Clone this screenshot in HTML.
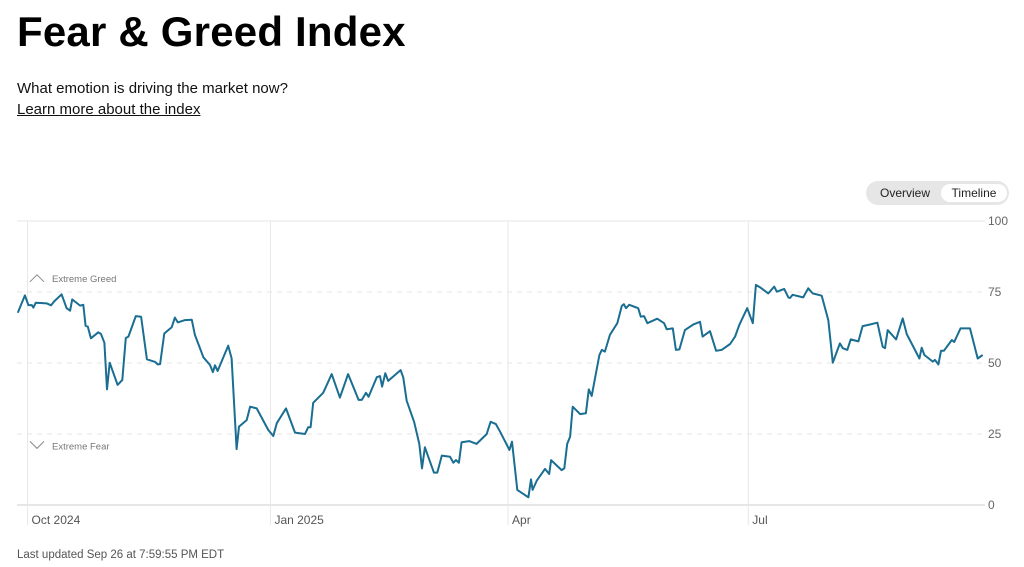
<!DOCTYPE html>
<html><head><meta charset="utf-8">
<style>
body{margin:0;width:1024px;height:567px;background:#fff;font-family:"Liberation Sans",sans-serif;overflow:hidden;position:relative}
h1{position:absolute;left:17px;top:8px;margin:0;font-size:42px;font-weight:700;color:#000;letter-spacing:0.2px}
.sub{position:absolute;left:17px;top:80px;font-size:15px;color:#111}
.lnk{position:absolute;left:17px;top:101px;font-size:15px;color:#111;text-decoration:underline}
.toggle{position:absolute;left:866px;top:181px;width:143px;height:24px;border-radius:12px;background:#e6e6e6}
.toggle span{position:absolute;top:3px;height:18px;line-height:18px;font-size:12px;color:#222;text-align:center}
.upd{position:absolute;left:17px;top:549px;font-size:11.5px;color:#555}
</style></head><body>
<h1>Fear &amp; Greed Index</h1>
<div class="sub">What emotion is driving the market now?</div>
<div class="lnk">Learn more about the index</div>
<div class="toggle">
 <span style="left:4px;width:70px">Overview</span>
 <span style="left:75px;width:66px;background:#fff;border-radius:10px">Timeline</span>
</div>
<svg id="chart" width="1024" height="567" style="position:absolute;left:0;top:0"></svg>
<div class="upd">Last updated Sep 26 at 7:59:55 PM EDT</div>
<script>
const days=[0.3,3.0,4.3,5.6,6.2,7.1,11.3,12.9,14.1,16.9,18.8,20.1,20.9,23.9,25.1,26.0,26.8,28.0,30.8,31.8,33.1,34.1,35.1,38.1,39.9,41.2,42.2,45.0,47.0,49.2,52.3,53.3,54.2,55.8,58.6,59.8,60.9,63.6,66.2,67.4,70.6,73.1,74.2,75.0,76.0,80.0,81.3,83.2,84.1,87.0,88.3,90.8,95.2,97.1,98.4,101.9,105.3,109.1,110.3,111.2,112.2,116.0,119.2,122.3,125.4,129.4,130.6,132.2,133.2,136.3,137.5,138.3,139.5,140.6,145.3,146.3,147.6,150.4,152.4,153.4,154.5,157.9,159.2,160.9,164.0,165.3,166.3,167.4,168.4,171.3,174.1,177.9,179.4,181.4,183.0,186.5,187.5,189.5,193.7,194.7,195.3,196.9,200.0,201.6,202.3,206.3,207.3,208.4,209.5,210.5,213.3,215.5,216.6,217.7,220.6,221.5,222.7,224.6,227.4,229.1,229.9,230.7,231.9,235.3,236.3,237.5,238.8,242.5,245.1,246.1,248.4,249.6,250.9,253.0,256.2,258.7,259.7,262.5,264.8,266.9,270.1,272.0,273.6,276.6,278.7,279.9,281.4,284.6,286.8,287.8,290.6,292.2,292.8,293.8,297.8,299.7,301.4,304.8,307.3,309.0,311.7,312.8,314.5,315.8,318.7,320.3,322.5,325.9,327.9,328.8,329.8,333.0,335.5,337.0,341.8,342.7,343.7,346.9,347.7,349.0,350.0,351.1,354.1,355.0,357.4,361.0,363.9,365.8];
const values=[67.7,73.8,70.4,70.4,69.5,71.2,71,70.3,71.7,74.2,69.3,68.4,72.4,70.2,70.5,63.1,62.8,58.7,60.8,60.2,57.1,40.7,50.1,42.3,44,58.8,59.3,66.5,66.3,51.3,50.4,49.5,49.6,60.4,62.6,66,64.3,65.1,65.2,59.9,52,49.3,46.8,49.2,47.2,56.1,51.7,19.7,27.6,29.9,34.6,34,26.4,24.3,28.8,34,25.5,25,27.4,27.4,36,39.5,46.1,37.8,46.1,37,37,39.5,38.1,45,45.4,41.7,46.4,43.7,47.5,45,36.7,29.3,21.5,12.9,20.3,11.4,11.4,17.4,17,14.9,15.8,14.9,22.1,22.5,21.5,25,29.3,28.5,25.8,19.4,22.3,5.3,2.7,9,5.3,8.6,12.7,10.9,15.8,12.3,12.9,21.5,24,34.6,32,32.3,40.7,38.4,52.8,54.6,54,59.9,64,70.1,70.7,69.3,70.5,69.3,66.3,66.5,64,65.6,64,61.9,62.2,54.6,54.8,61.6,63.6,64.5,59.3,61.2,54.3,54.6,56.7,59.3,63.4,69.3,64,77.5,76.7,74.5,76.9,75.1,76.1,73.1,72.9,74,73.1,76.3,74.5,73.7,65.1,50.1,56.9,55.2,54.6,58.3,57.6,63,63.4,64.2,55.7,55.2,61.6,58.3,65.7,60.2,51.6,55.4,52.8,50.5,51.1,49.5,54.3,54.3,58.1,57.4,62.2,62.2,51.6,52.8];
const yTicks=[0,25,50,75,100];
const xTickDays=[4,96,186,277];
const xTickLabels=["Oct 2024","Jan 2025","Apr","Jul"];
const zoneLabels=["Extreme Greed","Extreme Fear"];
const zoneValues=[80,21];

const NS="http://www.w3.org/2000/svg";
const svg=document.getElementById('chart');
const X=d=>17+2.64*d;
const Y=v=>505-2.84*v;
function mk(t,a,p){const e=document.createElementNS(NS,t);for(const k in a)e.setAttribute(k,a[k]);(p||svg).appendChild(e);return e;}
yTicks.forEach(t=>{
 const l=mk('line',{x1:17,x2:985,y1:Y(t),y2:Y(t),stroke:t===0?'#ccc':'#e6e6e6','stroke-width':1,'stroke-dasharray':(t===0||t===100)?'none':'5,5'});
 
 
 const tx=mk('text',{x:988,y:Y(t)+4,'font-size':12,fill:'#666','font-family':'Liberation Sans, sans-serif'});
 tx.textContent=t;
 
 
});
xTickDays.forEach((d,i)=>{
 const l=mk('line',{x1:X(d),x2:X(d),y1:221,y2:525,stroke:'#e8e8e8','stroke-width':1});
 
 
 const tx=mk('text',{x:X(d)+4,y:524,'font-size':12,fill:'#555','font-family':'Liberation Sans, sans-serif'});
 tx.textContent=xTickLabels[i];
 
 
});
zoneLabels.forEach((lab,i)=>{
 const y=Y(zoneValues[i]);
 const up=i===0;
 const p=mk('polyline',{points:up?`30,${y+4} 37,${y-3} 44,${y+4}`:`30,${y-4} 37,${y+3} 44,${y-4}`,fill:'none',stroke:'#888','stroke-width':1});
 
 
 const tx=mk('text',{x:52,y:y+4,'font-size':9.5,fill:'#777','font-family':'Liberation Sans, sans-serif'});
 tx.textContent=lab;
 
 
});
const line=mk('polyline',{points:days.map((d,i)=>X(d).toFixed(1)+','+Y(values[i]).toFixed(1)).join(' '),fill:'none',stroke:'#1a6e91','stroke-width':2,'stroke-linejoin':'round'});


</script>
</body></html>
